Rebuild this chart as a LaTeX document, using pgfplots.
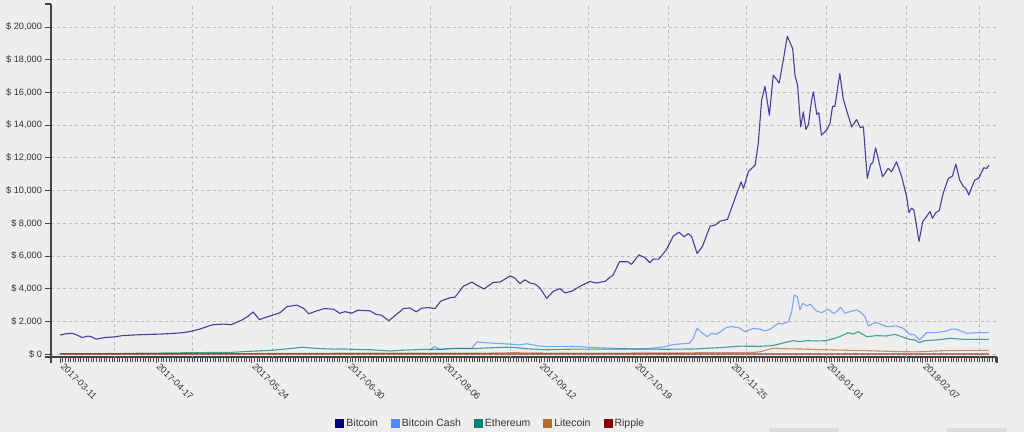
\documentclass[border=0pt]{standalone}
\usepackage{pgfplots}
\pgfplotsset{compat=1.18}
\usepackage{fontspec}
\setmainfont{Liberation Sans}
\definecolor{bg}{HTML}{EEEEEE}
\definecolor{btc}{HTML}{000080}
\definecolor{bch}{HTML}{4C8BFF}
\definecolor{eth}{HTML}{008078}
\definecolor{ltc}{HTML}{B0702C}
\definecolor{xrp}{HTML}{8B0000}
\definecolor{axc}{HTML}{444444}
\definecolor{txc}{HTML}{333333}
\definecolor{gridc}{HTML}{BBBBBB}
\definecolor{boxc}{HTML}{DCDCDC}
\begin{document}
\begin{tikzpicture}
\path[use as bounding box, fill=bg] (0,0) rectangle (1024bp,432bp);
\fill[boxc] (769bp,0) rectangle (839bp,4bp);
\fill[boxc] (946bp,0) rectangle (1007bp,4bp);
\begin{axis}[
  at={(51bp,75bp)}, anchor=south west,
  scale only axis, width=946bp, height=353bp,
  xmin=-3.5, xmax=361.8, ymin=-183, ymax=21406,
  axis x line*=bottom, axis y line*=left,
  axis line style={axc, line width=1.2bp},
  no markers,
  tick align=outside,
  major tick length=5.5bp, minor tick length=5bp,
  tick style={axc, line width=0.6bp},
  ytick={0,2000,...,20000},
  yticklabels={{\$ 0},{\$ 2,000},{\$ 4,000},{\$ 6,000},{\$ 8,000},{\$ 10,000},{\$ 12,000},{\$ 14,000},{\$ 16,000},{\$ 18,000},{\$ 20,000}},
  xtick={0,37,...,333},
  xticklabels={2017-03-11,2017-04-17,2017-05-24,2017-06-30,2017-08-06,2017-09-12,2017-10-19,2017-11-25,2018-01-01,2018-02-07},
  minor xtick={0,1,...,361},
  extra x ticks={21,51,82,112,143,174,204,235,265,296,327,355},
  extra x tick labels={},
  extra x tick style={grid=major, major tick length=0pt},
  ymajorgrids,
  major grid style={gridc, line width=0.8bp, dash pattern=on 3bp off 3bp},
  tick label style={font=\fontsize{9.2bp}{10bp}\selectfont, text=txc},
  x tick label style={rotate=-45, anchor=west},
  legend columns=-1,
  legend style={draw=none, fill=none, at={(0.465,-0.187)}, anchor=center,
    font=\fontsize{10.5bp}{12bp}\selectfont, text=txc,
    /tikz/every even column/.append style={column sep=11bp}},
  legend image code/.code={\fill[#1, draw=none] (0bp,-4.5bp) rectangle (9bp,4.5bp);},
  every axis plot/.append style={line width=1.1bp, draw opacity=0.72, line join=round},
]
\addplot[color=btc] coordinates {
(0,1160)(2,1230)(4.5,1265)(6,1200)(8.4,1010)(10.8,1095)(12,1060)(14,910)(17.4,1010)(21,1050)(24,1120)(28,1160)(31,1180)(34.7,1200)(39,1220)(43.7,1260)(47,1300)(50,1370)(53,1480)(55,1580)(57,1690)(59,1790)(63,1830)(66,1790)(70,2060)(72.5,2300)(74.6,2570)(77,2100)(79,2220)(81,2320)(85,2530)(87.6,2900)(91.5,2990)(94,2800)(96,2460)(99,2630)(102,2780)(105.6,2740)(108,2490)(110,2590)(112.6,2500)(115,2680)(119.7,2640)(122,2420)(124,2380)(127,2040)(129.3,2340)(132.6,2780)(135,2820)(137.5,2580)(139.6,2800)(142,2840)(144.8,2780)(147,3240)(150.6,3440)(152.5,3480)(155.7,4140)(159,4400)(161,4200)(163.7,3980)(167.3,4380)(169.9,4400)(173.8,4780)(175.7,4640)(177.6,4300)(179.5,4540)(181.5,4340)(183.4,4280)(185.3,4040)(187.9,3400)(190.5,3840)(193,4000)(195,3740)(197.6,3840)(200.8,4140)(204.6,4440)(207,4340)(210.4,4440)(213.6,4840)(216,5640)(219.3,5640)(220.6,5480)(223.5,6060)(225.8,5900)(227.8,5580)(229,5810)(231.2,5800)(234,6350)(236.8,7210)(239,7450)(241,7170)(242.6,7370)(243.9,7170)(246,6150)(248,6560)(251,7820)(252.9,7880)(254.8,8120)(257.7,8230)(261.3,9810)(263,10530)(263.9,10120)(265.8,11160)(268.4,11550)(269.6,12870)(270.9,15520)(272.2,16370)(273.9,14600)(275.4,17050)(277.7,16580)(279.3,18000)(280.8,19430)(282.9,18680)(283.8,17050)(284.8,16430)(286,13890)(287,14810)(288,13730)(289,14050)(290.2,15520)(290.9,16030)(292.2,14660)(293,14750)(294,13380)(296,13690)(297.3,14090)(298.3,15150)(299.2,15150)(301.1,17150)(302.4,15620)(303.7,14910)(305.7,13890)(307.6,14335)(309,13850)(310.2,13890)(311.7,10740)(313,11610)(313.8,11690)(314.9,12610)(317.6,10840)(319.8,11350)(321.1,11150)(323,11755)(325,10840)(326.9,9625)(327.8,8650)(328.8,8914)(329.7,8813)(331.7,6884)(333.1,8100)(334.6,8407)(335.9,8711)(336.9,8305)(338.2,8650)(339.5,8772)(341,9828)(343,10741)(344.6,10883)(345.9,11614)(347.4,10640)(348.7,10275)(350,10072)(350.9,9726)(351.9,10133)(353.2,10640)(354.7,10741)(356.7,11391)(357.8,11350)(358.7,11553)
};
\addlegendentry{Bitcoin}
\addplot[color=bch] coordinates {
(143,245)(144.5,470)(146.7,265)(150.6,347)(156.6,347)(159,347)(161.1,755)(162,714)(168.5,653)(174.9,592)(177.5,551)(180,632)(184,510)(187.8,449)(194,470)(200.9,449)(207,388)(213.5,347)(221,306)(228,330)(231,400)(233.6,449)(236,551)(239,612)(243,653)(244.5,959)(246,1571)(247.7,1326)(249.9,1061)(251.6,1265)(253.5,1204)(257.4,1632)(259.4,1673)(262,1612)(264.5,1367)(267.7,1571)(270.3,1510)(272.2,1408)(274.1,1510)(277.4,1877)(279,1836)(281.3,1979)(282.5,2591)(283.5,3611)(284.7,3509)(285.7,2693)(286.8,3101)(288.3,2938)(289.8,3040)(291.9,2652)(294,2530)(296.7,2734)(298.6,2489)(299.9,2591)(301.4,2856)(303.1,2489)(305,2591)(307.6,2693)(309.2,2550)(310.8,2285)(312.1,1714)(314.1,1877)(315.3,1918)(319.2,1673)(323,1714)(325.6,1571)(328.2,1204)(330.1,1163)(331.8,857)(334.6,1306)(338.4,1306)(342.3,1408)(344.3,1530)(346.2,1510)(350.1,1265)(353.9,1306)(358.7,1306)
};
\addlegendentry{Bitcoin Cash}
\addplot[color=eth] coordinates {
(0,20)(15,25)(34.7,50)(50,80)(60,95)(66,100)(74,170)(82,230)(88,320)(93.8,420)(96,380)(99,340)(105.6,300)(109,310)(114.5,280)(120,260)(127.4,185)(132,230)(140.3,280)(147,290)(153.2,340)(160,330)(166,380)(173.8,420)(180.3,320)(188,260)(198.4,300)(211.2,300)(220,310)(234,290)(245,310)(255.9,400)(262.4,480)(270,470)(275,510)(282.9,816)(285.7,755)(288.3,816)(292,796)(296,816)(301.1,1061)(304.3,1306)(306.3,1224)(308.2,1367)(311.5,1061)(315.3,1122)(319.2,1102)(322.4,1204)(325,1061)(327.5,918)(330.1,857)(331.8,694)(334,816)(338.4,857)(343.6,959)(348.8,898)(358.7,898)
};
\addlegendentry{Ethereum}
\addplot[color=ltc] coordinates {
(0,4)(30,8)(45,15)(55,25)(70,25)(80,30)(95,40)(110,45)(140,45)(150,45)(160,47)(170,65)(174,80)(185,60)(190,55)(210,55)(225,60)(240,62)(250,85)(262,85)(268,100)(271,150)(272.8,250)(275.4,347)(280,320)(285.7,306)(298.6,245)(311.5,204)(324.4,143)(331,130)(341,204)(350,220)(358.7,224)
};
\addlegendentry{Litecoin}
\addplot[color=xrp] coordinates {
(0,0.01)(60,0.2)(110,0.25)(270,0.3)(290,1.5)(305,2.5)(320,1.3)(358.7,0.9)
};
\addlegendentry{Ripple}
\end{axis}
\draw[axc, line width=1.2bp] (51bp,428bp) -- (45bp,428bp);
\draw[axc, line width=1.2bp] (51bp,75bp) -- (45bp,75bp);
\draw[axc, line width=1.2bp] (51bp,75bp) -- (51bp,69bp);
\draw[axc, line width=1.2bp] (997bp,75bp) -- (997bp,69bp);
\end{tikzpicture}
\end{document}
